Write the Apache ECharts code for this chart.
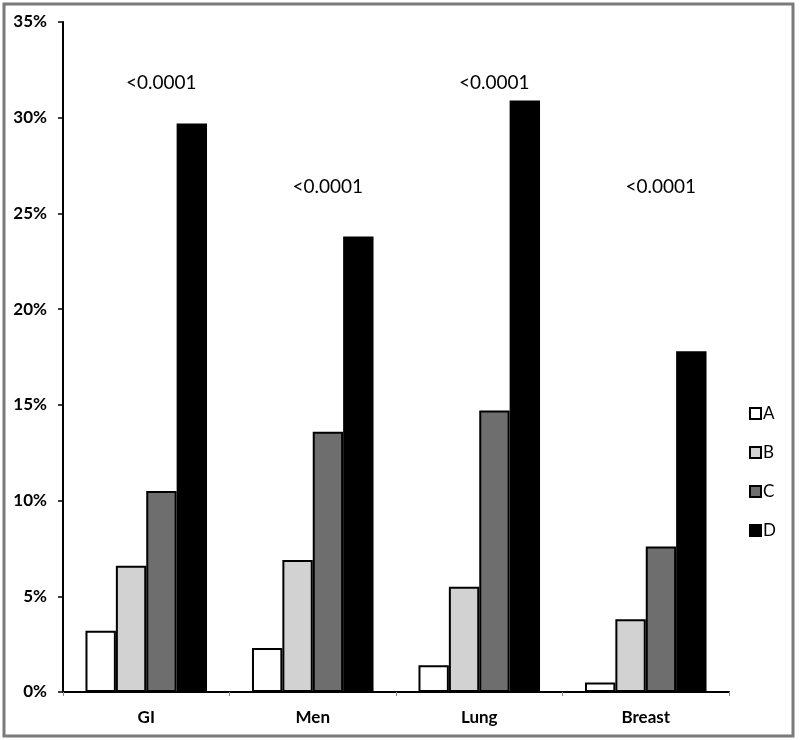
<!DOCTYPE html>
<html>
<head>
<meta charset="utf-8">
<script src="https://cdn.jsdelivr.net/npm/echarts@6/dist/echarts.min.js"></script>
<style>html,body{margin:0;padding:0;background:#fff}#c{width:800px;height:740px}</style>
</head>
<body>
<div id="c"></div>
<script>
const categories = ['GI', 'Men', 'Lung', 'Breast'];
const seriesA = [3.2, 2.3, 1.4, 0.5];
const seriesB = [6.6, 6.9, 5.5, 3.8];
const seriesC = [10.5, 13.6, 14.7, 7.6];
const seriesD = [29.7, 23.8, 30.9, 17.8];
const pLabels = ['<0.0001', '<0.0001', '<0.0001', '<0.0001'];
const pLabelY = [31.8, 26.4, 31.8, 26.4];
const yTicks = [0, 5, 10, 15, 20, 25, 30, 35];

const chart = echarts.init(document.getElementById('c'));
const font = 'Lato, "Open Sans", sans-serif';
function bar(name, data, color) {
  return {
    name: name, type: 'bar', data: data,
    barGap: '0%', barCategoryGap: '27%',
    itemStyle: { color: color, borderColor: '#000', borderWidth: 2 },
    emphasis: { disabled: true }
  };
}
chart.setOption({
  animation: false,
  backgroundColor: '#fff',
  graphic: [{
    type: 'rect', shape: { x: 4, y: 4, width: 789, height: 732 },
    style: { fill: 'none', stroke: '#7a7a7a', lineWidth: 3 }, silent: true
  }],
  grid: { left: 63, right: 71, top: 22, bottom: 48 },
  legend: {
    orient: 'vertical', left: 744, top: 400,
    itemWidth: 11, itemHeight: 11, itemGap: 22, icon: 'rect',
    data: ['A', 'B', 'C', 'D'],
    textStyle: { fontFamily: font, fontSize: 17, color: '#000', padding: [0, 0, 0, -3] }
  },
  xAxis: {
    type: 'category', data: categories,
    axisLine: { lineStyle: { color: '#000', width: 2 } },
    axisTick: { show: true, length: 4, lineStyle: { color: '#888' } },
    axisLabel: { fontFamily: font, fontWeight: 'bold', fontSize: 17, color: '#000', margin: 17 }
  },
  yAxis: {
    type: 'value', min: 0, max: 35, interval: 5,
    splitLine: { show: false },
    axisLine: { show: true, lineStyle: { color: '#000', width: 2 } },
    axisTick: { show: true, length: 5, lineStyle: { color: '#000', width: 1.5 } },
    axisLabel: { fontFamily: font, fontWeight: 'bold', fontSize: 17, color: '#000', margin: 16,
      formatter: v => yTicks.includes(v) ? v + '%' : '' }
  },
  series: [
    bar('A', seriesA, '#ffffff'),
    bar('B', seriesB, '#d2d2d2'),
    bar('C', seriesC, '#6e6e6e'),
    bar('D', seriesD, '#000000'),
    {
      type: 'scatter', symbolSize: 0, silent: true,
      data: pLabelY,
      itemStyle: { opacity: 1, color: '#000' },
      label: {
        show: true, position: 'inside', offset: [15, 0],
        fontFamily: font, fontSize: 19, color: '#000',
        formatter: p => pLabels[p.dataIndex]
      }
    }
  ]
});
</script>
</body>
</html>
